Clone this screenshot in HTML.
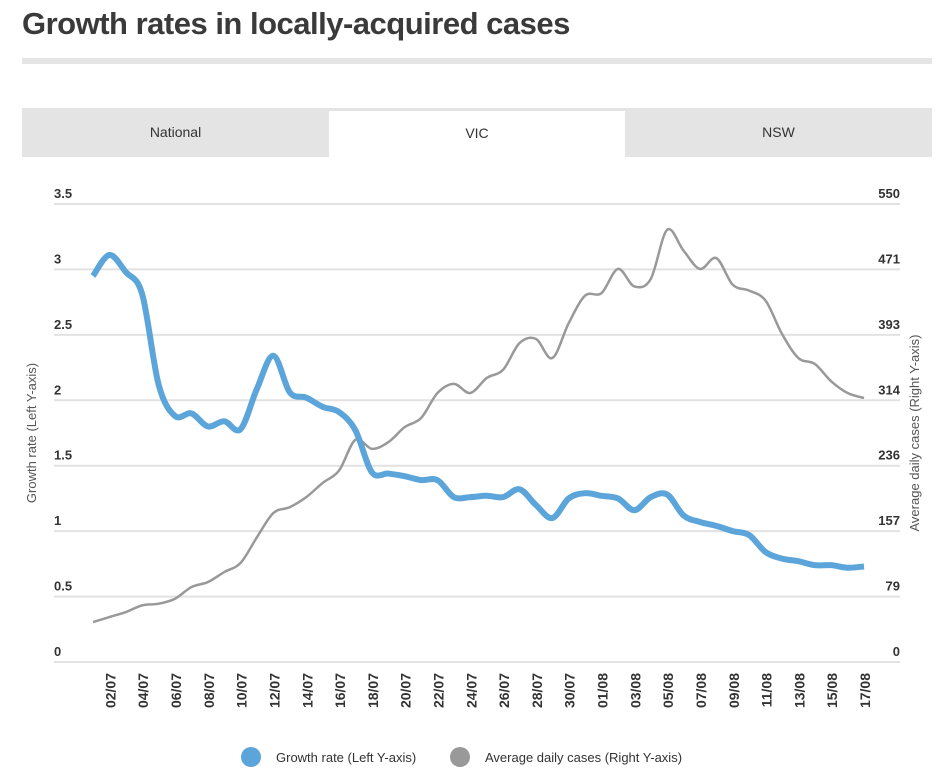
<!DOCTYPE html>
<html><head><meta charset="utf-8"><style>
html,body{margin:0;padding:0;background:#fff;width:949px;height:779px;overflow:hidden;font-family:"Liberation Sans",sans-serif;color:#333}
#title{position:absolute;left:22px;top:6px;font-size:31px;font-weight:bold;color:#3a3a3a;letter-spacing:-0.5px}
#rule{position:absolute;left:22px;top:58px;width:910px;height:6px;background:#e5e5e5}
#tabs{position:absolute;left:22px;top:108px;width:910px;height:49px;background:#e4e4e4}
.tab{position:absolute;top:0;height:49px;line-height:48px;text-align:center;font-size:14px;color:#333}
svg{position:absolute;left:0;top:0}
</style></head><body>
<div id="title">Growth rates in locally-acquired cases</div>
<div id="rule"></div>
<div id="tabs">
<div class="tab" style="left:0;width:307px">National</div>
<div class="tab" style="left:307px;width:296px;background:#fff;top:3px;height:46px;line-height:44px">VIC</div>
<div class="tab" style="left:603px;width:307px">NSW</div>
</div>
<svg id="chart" width="949" height="779"></svg>
<script>
const dates=["01/07","02/07","03/07","04/07","05/07","06/07","07/07","08/07","09/07","10/07","11/07","12/07","13/07","14/07","15/07","16/07","17/07","18/07","19/07","20/07","21/07","22/07","23/07","24/07","25/07","26/07","27/07","28/07","29/07","30/07","31/07","01/08","02/08","03/08","04/08","05/08","06/08","07/08","08/08","09/08","10/08","11/08","12/08","13/08","14/08","15/08","16/08","17/08"];
const growthRate=[2.95,3.11,2.98,2.81,2.12,1.88,1.90,1.80,1.84,1.78,2.09,2.34,2.06,2.02,1.95,1.91,1.77,1.45,1.44,1.42,1.39,1.39,1.26,1.26,1.27,1.26,1.32,1.20,1.10,1.25,1.29,1.27,1.25,1.16,1.26,1.28,1.12,1.07,1.04,1.00,0.97,0.84,0.79,0.77,0.74,0.74,0.72,0.73];
const avgCases=[48,54,60,68,70,76,90,96,108,119,150,179,186,198,215,230,267,256,264,282,293,323,334,323,341,351,383,388,365,407,440,443,472,451,460,519,494,472,485,453,446,434,394,365,358,337,323,317];
const leftTicks=["0","0.5","1","1.5","2","2.5","3","3.5"];
const rightTicks=["0","79","157","236","314","393","471","550"];
const leftMax=3.5, rightMax=550;
const NS="http://www.w3.org/2000/svg";
const svg=document.getElementById('chart');
const x0=93,x1=864,yTop=204,yBot=662,gL=54,gR=900;
const xs=i=>x0+(x1-x0)*i/(dates.length-1);
const yL=v=>yBot-(yBot-yTop)*v/leftMax;
const yR=v=>yBot-(yBot-yTop)*v/rightMax;
function mk(tag,attrs){const e=document.createElementNS(NS,tag);for(const k in attrs)e.setAttribute(k,attrs[k]);svg.appendChild(e);return e;}
leftTicks.forEach((t,i)=>{
 const y=yBot-(yBot-yTop)*i/(leftTicks.length-1);
 const g=mk('line',{x1:gL,x2:gR,y1:y,y2:y,stroke:'#e2e2e2','stroke-width':2});
 
 
 const l=mk('text',{x:gL,y:y-6,'font-size':13,'font-weight':'bold',fill:'#333'});l.textContent=t;
 
 
 const r=mk('text',{x:gR,y:y-6,'font-size':13,'font-weight':'bold',fill:'#333','text-anchor':'end'});r.textContent=rightTicks[i];
 
 
});
dates.forEach((d,i)=>{ if(i%2!==1)return;
 const x=xs(i);
 const t=mk('text',{x:0,y:0,'font-size':14,'font-weight':'bold',fill:'#333','text-anchor':'end',transform:`translate(${x+6},${673}) rotate(-90)`});t.textContent=d;
 
 
});
const lt=mk('text',{x:0,y:0,'font-size':13,fill:'#555','text-anchor':'middle',transform:'translate(36,433) rotate(-90)'});lt.textContent='Growth rate (Left Y-axis)';


const rt=mk('text',{x:0,y:0,'font-size':13,fill:'#555','text-anchor':'middle',transform:'translate(919,433) rotate(-90)'});rt.textContent='Average daily cases (Right Y-axis)';


function smooth(pts){let d=`M${pts[0][0]},${pts[0][1]}`;for(let i=0;i<pts.length-1;i++){const p0=pts[i-1]||pts[i],p1=pts[i],p2=pts[i+1],p3=pts[i+2]||p2;const c1=[p1[0]+(p2[0]-p0[0])/6,p1[1]+(p2[1]-p0[1])/6],c2=[p2[0]-(p3[0]-p1[0])/6,p2[1]-(p3[1]-p1[1])/6];d+=` C${c1[0]},${c1[1]} ${c2[0]},${c2[1]} ${p2[0]},${p2[1]}`;}return d;}
const gp=mk('path',{d:smooth(avgCases.map((v,i)=>[xs(i),yR(v)])),fill:'none',stroke:'#999','stroke-width':2.5});


const bp=mk('path',{d:smooth(growthRate.map((v,i)=>[xs(i),yL(v)])),fill:'none',stroke:'#5ca5da','stroke-width':6,'stroke-linejoin':'round'});


const c1=mk('circle',{cx:251,cy:757,r:10,fill:'#5ca5da'});


const t1=mk('text',{x:276,y:762,'font-size':13,fill:'#333'});t1.textContent='Growth rate (Left Y-axis)';


const c2=mk('circle',{cx:460,cy:757,r:10,fill:'#999'});


const t2=mk('text',{x:485,y:762,'font-size':13,fill:'#333'});t2.textContent='Average daily cases (Right Y-axis)';


</script>
</body></html>
